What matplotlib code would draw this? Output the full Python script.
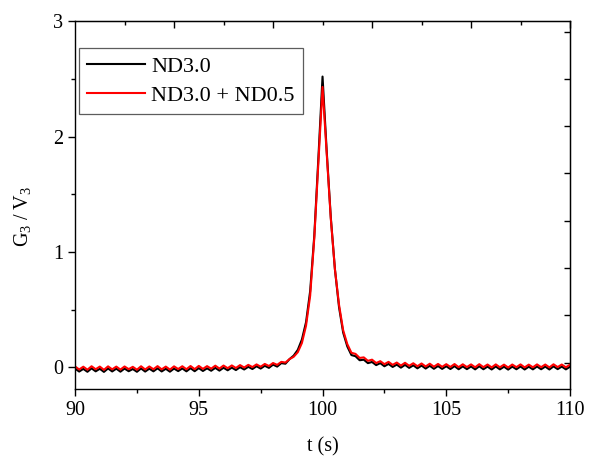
import matplotlib
matplotlib.use("Agg")
import matplotlib.pyplot as plt
import numpy as np
from matplotlib.ticker import MultipleLocator, FixedLocator

plt.rcParams["font.family"] = ["Liberation Serif", "DejaVu Serif"]
plt.rcParams["mathtext.fontset"] = "custom"
plt.rcParams["mathtext.rm"] = "Liberation Serif"
plt.rcParams["mathtext.it"] = "Liberation Serif"

# time samples, 1/6 s apart
t = np.linspace(90, 110, 121)

nd30 = [
    -0.012, -0.038, -0.015, -0.040, -0.010, -0.036, -0.014, -0.041, -0.011, -0.037,
    -0.013, -0.039, -0.012, -0.035, -0.016, -0.040, -0.011, -0.038, -0.013, -0.036,
    -0.010, -0.037, -0.014, -0.039, -0.012, -0.034, -0.011, -0.036, -0.009, -0.035,
    -0.008, -0.033, -0.010, -0.031, -0.006, -0.030, -0.005, -0.027, -0.004, -0.025,
    0.000, -0.020, 0.003, -0.016, 0.008, -0.012, 0.012, -0.006,
    0.022, 0.005, 0.035, 0.030,
    0.07, 0.10, 0.15, 0.24, 0.39, 0.66, 1.14, 1.82, 2.52, 1.88, 1.30, 0.85, 0.52,
    0.30, 0.18, 0.105, 0.095, 0.06, 0.065, 0.035, 0.045,
    0.018, 0.035, 0.008, 0.028, 0.002, 0.022, -0.004, 0.020, -0.006, 0.016,
    -0.010, 0.014, -0.012, 0.012, -0.014, 0.010, -0.015, 0.008, -0.016, 0.009,
    -0.018, 0.007, -0.017, 0.006, -0.019, 0.008, -0.018, 0.005, -0.020, 0.006,
    -0.019, 0.004, -0.021, 0.005, -0.018, 0.006, -0.020, 0.004, -0.019, 0.006,
    -0.018, 0.005, -0.020, 0.007, -0.017, 0.005, -0.019, 0.004,
]

nd30_nd05 = [
    0.006, -0.020, 0.004, -0.022, 0.008, -0.018, 0.005, -0.023, 0.007, -0.019,
    0.005, -0.021, 0.006, -0.017, 0.003, -0.022, 0.008, -0.020, 0.006, -0.018,
    0.009, -0.019, 0.005, -0.021, 0.007, -0.016, 0.008, -0.018, 0.010, -0.017,
    0.011, -0.015, 0.009, -0.013, 0.013, -0.012, 0.014, -0.009, 0.015, -0.007,
    0.018, -0.003, 0.020, 0.001, 0.024, 0.004, 0.028, 0.010,
    0.036, 0.020, 0.046, 0.040,
    0.07, 0.09, 0.13, 0.21, 0.36, 0.62, 1.12, 1.78, 2.43, 1.86, 1.29, 0.85, 0.54,
    0.32, 0.20, 0.125, 0.115, 0.08, 0.085, 0.055, 0.065,
    0.036, 0.052, 0.026, 0.046, 0.020, 0.040, 0.014, 0.038, 0.012, 0.034,
    0.008, 0.032, 0.006, 0.030, 0.004, 0.028, 0.003, 0.026, 0.002, 0.027,
    0.000, 0.025, 0.001, 0.024, -0.001, 0.026, 0.000, 0.023, -0.002, 0.024,
    -0.001, 0.022, -0.003, 0.023, 0.000, 0.024, -0.002, 0.022, -0.001, 0.024,
    0.000, 0.023, -0.002, 0.025, 0.001, 0.023, -0.001, 0.022,
]

labels = ["ND3.0", "ND3.0 + ND0.5"]

fig = plt.figure(figsize=(5.91, 4.61), dpi=100)
ax = fig.add_axes([0.127, 0.156, 0.8375, 0.798])

ax.plot(t, nd30, color="black", lw=1.5, label=labels[0])
ax.plot(t, nd30_nd05, color="#ff0000", lw=1.5, label=labels[1])

ax.set_xlim(90, 110)
ax.set_ylim(-0.19, 3)

ax.xaxis.set_major_locator(MultipleLocator(5))
ax.xaxis.set_minor_locator(MultipleLocator(2.5))
ax.yaxis.set_major_locator(MultipleLocator(1))
ax.yaxis.set_minor_locator(MultipleLocator(0.5))
ax.tick_params(which="both", direction="out", top=False, right=False,
               labelsize=14.5, width=1)
ax.tick_params(which="major", length=5)
ax.tick_params(which="minor", length=3)

# top and right spines carry their own inward ticks
top = ax.secondary_xaxis("top")
top.xaxis.set_major_locator(FixedLocator([94, 98, 102, 106, 110]))
top.xaxis.set_minor_locator(FixedLocator([92, 96, 100, 104, 108]))
top.tick_params(which="both", direction="in", labeltop=False, width=1)
top.tick_params(which="major", length=5)
top.tick_params(which="minor", length=3)

right = ax.secondary_yaxis("right")
right.yaxis.set_major_locator(FixedLocator([0.04, 0.45, 0.86, 1.27, 1.68, 2.09, 2.50, 2.91]))
right.tick_params(which="both", direction="in", labelright=False, width=1, length=4)
right.yaxis.set_minor_locator(FixedLocator([]))

for s in ax.spines.values():
    s.set_linewidth(1)

ax.set_xlabel("t (s)", fontsize=14.5)
ax.set_ylabel(r"G$_{\mathregular{3}}$ / V$_{\mathregular{3}}$", fontsize=14.5)
ax.xaxis.set_label_coords(0.5, -0.13)
ax.yaxis.set_label_coords(-0.085, 0.47)

leg = ax.legend(loc="upper left", bbox_to_anchor=(0.008, 0.927),
                borderaxespad=0, fontsize=16, fancybox=False,
                edgecolor="#333333", handlelength=2.6, handletextpad=0.3,
                labelspacing=0.38, borderpad=0.36)
leg.get_frame().set_linewidth(0.9)

fig.savefig("out.png", dpi=100)
